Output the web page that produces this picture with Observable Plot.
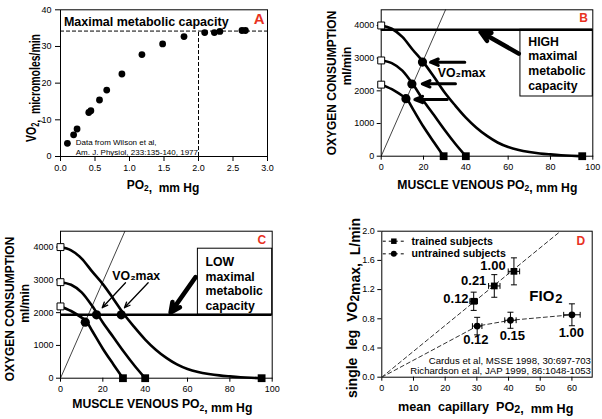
<!DOCTYPE html>
<html><head><meta charset="utf-8">
<script src="https://cdn.jsdelivr.net/npm/d3@7"></script>
<script src="https://cdn.jsdelivr.net/npm/@observablehq/plot@0.6"></script>
<style>
html,body{margin:0;padding:0;background:#fff;}
#wrap{position:relative;width:602px;height:419px;overflow:hidden;background:#fff;}
#wrap svg{position:absolute;overflow:visible;}
</style></head>
<body><div id="wrap"></div>
<script>
const FONT = "'Liberation Sans', Arial, 'DejaVu Sans', sans-serif";
const RED = "#e8321f";

// ---------- Panel A data ----------
const aPO2 = [0.10,0.19,0.24,0.41,0.44,0.565,0.67,0.89,1.18,1.48,1.79,2.09,2.23,2.31,2.63,2.68];
const aVO2 = [3.6,5.9,7.5,12.0,12.5,15.4,18.1,22.5,27.8,30.7,32.7,33.8,33.8,34.1,34.35,34.35];
const aMaxVO2 = 34.2;
const aCritPO2 = 2.0;
const aXTicks = [0,0.5,1,1.5,2,2.5,3];
const aYTicks = [0,10,20,30,40];

// ---------- Panels B & C data ----------
const curveHighPO2 = [0,5,10,15,20,25,30,35,40,45,50,55,60,65,70,75,80,85,90,95];
const curveHighVO2 = [4000,3900,3650,3250,2870,2420,1950,1550,1180,870,620,420,280,190,130,85,55,30,12,0];
const curveMidPO2 = [0,5,10,15,20,25,30,35,40];
const curveMidVO2 = [2930,2850,2620,2200,1700,1250,800,380,0];
const curveLowPO2 = [0,5,10,12,15,20,25,29.5];
const curveLowVO2 = [2190,2050,1850,1760,1440,900,420,0];
const diagPO2 = [0,30.4];
const diagVO2 = [0,4480];
const bMaxVO2 = 3870;   // HIGH maximal metabolic capacity
const cMaxVO2 = 1934;   // LOW maximal metabolic capacity
const bVO2maxPO2 = [19.5,14.5,11.7];
const bVO2maxVO2 = [2880,2210,1760];
const cVO2maxPO2 = [11.7,17.0,28.7];
const cVO2maxVO2 = [1710,1934,1934];
const bcXTicks = [0,20,40,60,80,100];
const bcYTicks = [0,1000,2000,3000,4000];

// ---------- Panel D data ----------
const dTrainedPc = [29.0,35.5,41.7];
const dTrainedVO2 = [1.04,1.25,1.45];
const dTrainedYErr = [0.125,0.155,0.185];
const dTrainedXErr = [1.2,1.8,1.8];
const dTrainedFIO2 = ["0.12","0.21","1.00"];
const dUntrainedPc = [30.1,40.6,60.0];
const dUntrainedVO2 = [0.70,0.78,0.855];
const dUntrainedYErr = [0.12,0.11,0.15];
const dUntrainedXErr = [1.5,1.8,2.6];
const dUntrainedFIO2 = ["0.12","0.15","1.00"];
const dTrainedFitPc = [0,56.4];
const dTrainedFitVO2 = [0,2.0];
const dXTicks = [0,10,20,30,40,50,60];
const dYTicks = [0,0.4,0.8,1.2,1.6,2.0];

const wrap = document.getElementById("wrap");

function place(svg, left, top){ svg.style.left = left+"px"; svg.style.top = top+"px"; wrap.appendChild(svg); return svg; }

function label(svg, x, y, parts, {size=12, rotate=0, sx=1, anchor="middle", weight="bold", subScale=0.7, subShift=0.28}={}){
  const t = d3.select(svg).append("text")
    .attr("transform", `translate(${x},${y}) rotate(${rotate}) scale(${sx},1)`)
    .attr("text-anchor", anchor).attr("dominant-baseline","central")
    .attr("font-family", FONT).attr("font-size", size).attr("font-weight", weight).attr("fill","black");
  parts.forEach(p => {
    if (typeof p === "string") t.append("tspan").text(p);
    else {
      t.append("tspan").attr("font-size", size*subScale).attr("dy", size*subShift).text(p.sub);
      t.append("tspan").attr("dy", -size*subShift).text("");
    }
  });
}

const pts = (xs, ys) => xs.map((x,i)=>({x, y: ys[i]}));
const baseStyle = {fontFamily: FONT, fontSize: "9px", color: "black", background: "transparent", overflow: "visible"};

// ================= Panel A =================
{
  const data = pts(aPO2, aVO2);
  const svg = Plot.plot({
    width: 300, height: 210, marginLeft: 60, marginRight: 33, marginTop: 9.3, marginBottom: 54,
    x: {domain:[0,3], ticks: aXTicks, tickFormat: d3.format(".1f"), tickSize: 5, tickPadding: 3, label: null},
    y: {domain:[0,40], ticks: aYTicks, tickFormat: d3.format("d"), tickSize: 5, tickPadding: 4, label: null},
    style: baseStyle,
    marks: [
      Plot.frame({stroke:"black"}),
      Plot.ruleY([aMaxVO2], {x1: 0, x2: 3, stroke:"black", strokeDasharray:"4,2", strokeWidth:1}),
      Plot.ruleX([aCritPO2], {y1: 0, y2: aMaxVO2, stroke:"black", strokeDasharray:"4,2", strokeWidth:1}),
      Plot.dot(data, {x:"x", y:"y", r:3.4, fill:"black"}),
      Plot.text(["Maximal metabolic capacity"], {x: 0.05, y: 36.6, text: d=>d, textAnchor:"start", fontSize: 12.5, fontWeight:"bold"}),
      Plot.text(["A"], {frameAnchor:"top-right", dx:-3, dy:4, text:d=>d, fontSize: 15, fontWeight:"bold", fill: RED}),
      Plot.text(["Data from Wilson et al,\nAm. J. Physiol, 233:135-140, 1977"], {x: 0.22, y: 2.6, text:d=>d, textAnchor:"start", fontSize: 8, lineHeight: 1.25})
    ]
  });
  place(svg, 0, 0);
  label(svg, 31.7, 88, ["VO", {sub:"2"}, ",  micromoles/min"], {size: 14.5, rotate: -90, sx: 0.72});
  label(svg, 163, 185, ["PO", {sub:"2"}, ",  mm Hg"], {size: 12});
}

// ============ Panels B and C shared builder ============
function buildBC({left, top, width, height, mt, mb, ml, mr, yMax, maxVO2, circPO2, circVO2, box, boxText, textPos, bigArrow, smallArrows, vo2Text, letter, arrowWidth}){
  const curves = [pts(curveHighPO2, curveHighVO2), pts(curveMidPO2, curveMidVO2), pts(curveLowPO2, curveLowVO2)];
  const starts = curves.map(c => c[0]);
  const ends = curves.map(c => c[c.length-1]);
  const svg = Plot.plot({
    width, height, marginLeft: ml, marginRight: mr, marginTop: mt, marginBottom: mb,
    x: {domain:[0,100], ticks: bcXTicks, tickFormat: d3.format("d"), tickSize: 4, tickPadding: 3, label: null},
    y: {domain:[0,yMax], ticks: bcYTicks, tickFormat: d3.format("d"), tickSize: 4, tickPadding: 3, label: null},
    style: baseStyle,
    marks: [
      Plot.line(pts(diagPO2, diagVO2), {x:"x", y:"y", stroke:"#444", strokeWidth:1}),
      ...curves.map(c => Plot.line(c, {x:"x", y:"y", curve:"monotone-x", stroke:"black", strokeWidth:2.6})),
      Plot.rect([box], {x1:"x1", x2:"x2", y1:"y1", y2:"y2", fill:"white", stroke:"black", strokeWidth:1}),
      Plot.ruleY([maxVO2], {x1:0, x2:100, stroke:"black", strokeWidth:2.4}),
      Plot.frame({stroke:"black"}),
      Plot.dot(starts, {x:"x", y:"y", symbol:"square", r:3.9, fill:"white", stroke:"black", strokeWidth:1}),
      Plot.dot(ends, {x:"x", y:"y", symbol:"square", r:4.4, fill:"black"}),
      Plot.dot(pts(circPO2, circVO2), {x:"x", y:"y", r:4.6, fill:"black"}),
      Plot.text([boxText], {x: textPos.x, y: textPos.y, text:d=>d, textAnchor:"start", lineAnchor:"middle", fontSize:12.3, fontWeight:"bold", lineHeight:1.2}),
      Plot.arrow([bigArrow], {x1:"x1", y1:"y1", x2:"x2", y2:"y2", stroke:"black", strokeWidth:4.5, headLength:3.6, headAngle:50}),
      Plot.arrow(smallArrows, {x1:"x1", y1:"y1", x2:"x2", y2:"y2", stroke:"black", strokeWidth:arrowWidth, headLength:arrowWidth>2?4.2:7, headAngle:45}),
      Plot.text([vo2Text.t], {x: vo2Text.x, y: vo2Text.y, text:d=>d, fontSize:12.3, fontWeight:"bold"}),
      Plot.text([letter.t], {frameAnchor:"top-right", dx: letter.dx, dy: letter.dy, text:d=>d, fontSize: letter.size, fontWeight:"bold", fill: RED})
    ]
  });
  return place(svg, left, top);
}

// ================= Panel B =================
{
  const svg = buildBC({
    left: 300, top: 0, width: 302, height: 210, ml: 80.7, mr: 9.7, mt: 9.3, mb: 54.3, yMax: 4480,
    maxVO2: bMaxVO2, circPO2: bVO2maxPO2, circVO2: bVO2maxVO2,
    box: {x1: 65.8, x2: 100, y1: 1827, y2: bMaxVO2},
    boxText: "HIGH\nmaximal\nmetabolic\ncapacity", textPos: {x: 69.5, y: 2850},
    bigArrow: {x1: 65, y1: 3140, x2: 47, y2: 3800},
    smallArrows: [
      {x1: 39.5, y1: 2876, x2: 23.3, y2: 2876},
      {x1: 35.1, y1: 2215, x2: 19.4, y2: 2215},
      {x1: 31.2, y1: 1735, x2: 15.9, y2: 1735}
    ],
    arrowWidth: 3,
    vo2Text: {t: "VO₂max", x: 38.0, y: 2530},
    letter: {t: "B", dx: -5, dy: 4, size: 12}
  });
  label(svg, 31.7, 83, ["OXYGEN CONSUMPTION"], {size: 12, rotate: -90});
  label(svg, 47, 66, ["ml/min"], {size: 12, rotate: -90});
  label(svg, 187.3, 185, ["MUSCLE VENOUS PO", {sub:"2"}, ", mm Hg"], {size: 12.2});
}

// ================= Panel C =================
{
  const svg = buildBC({
    left: 0, top: 210, width: 300, height: 209, ml: 60, mr: 28.3, mt: 20.7, mb: 41.3, yMax: 4485,
    maxVO2: cMaxVO2, circPO2: cVO2maxPO2, circVO2: cVO2maxVO2,
    box: {x1: 64.9, x2: 100, y1: cMaxVO2, y2: 3951},
    boxText: "LOW\nmaximal\nmetabolic\ncapacity", textPos: {x: 68.5, y: 2895},
    bigArrow: {x1: 63.8, y1: 3084, x2: 52.0, y2: 2000},
    smallArrows: [
      {x1: 30.7, y1: 2913, x2: 19.7, y2: 2150},
      {x1: 41.4, y1: 2913, x2: 30.2, y2: 2150}
    ],
    arrowWidth: 1.3,
    vo2Text: {t: "VO₂max", x: 35.8, y: 3105},
    letter: {t: "C", dx: -6, dy: 4, size: 12}
  });
  label(svg, 10, 99, ["OXYGEN CONSUMPTION"], {size: 12, rotate: -90});
  label(svg, 25, 93.3, ["ml/min"], {size: 12, rotate: -90});
  label(svg, 162.3, 194.3, ["MUSCLE VENOUS PO", {sub:"2"}, ", mm Hg"], {size: 12.2});
}

// ================= Panel D =================
{
  const trained = dTrainedPc.map((x,i)=>({x, y:dTrainedVO2[i], ey:dTrainedYErr[i], ex:dTrainedXErr[i], f:dTrainedFIO2[i]}));
  const untrained = dUntrainedPc.map((x,i)=>({x, y:dUntrainedVO2[i], ey:dUntrainedYErr[i], ex:dUntrainedXErr[i], f:dUntrainedFIO2[i]}));
  const all = trained.concat(untrained);
  const capX = 0.95, capY = 0.04;
  const untrainedLine = [{x:0,y:0}, ...untrained];
  const trainedLabelPos = [{x:23.4,y:1.078},{x:29.0,y:1.325},{x:35.1,y:1.525}];
  const untrainedLabelPos = [{x:29.7,y:0.512},{x:41.2,y:0.571},{x:59.8,y:0.612}];
  const legend = [
    {label:"trained subjects", y:1.863, symbol:"square", r:3.6},
    {label:"untrained subjects", y:1.69, symbol:"circle", r:3.3}
  ];
  const refs = ["Cardus et al, MSSE 1998, 30:697-703", "Richardson et al, JAP 1999, 86:1048-1053"];
  const svg = Plot.plot({
    width: 302, height: 209, marginLeft: 81.3, marginRight: 10.3, marginTop: 20.7, marginBottom: 42.3,
    x: {domain:[0,66.4], ticks: dXTicks, tickFormat: d3.format("d"), tickSize: 4, tickPadding: 3, label: null},
    y: {domain:[0,2.0], ticks: dYTicks, tickFormat: d3.format(".1f"), tickSize: 4, tickPadding: 3, label: null},
    style: baseStyle,
    marks: [
      Plot.frame({stroke:"black"}),
      Plot.line(pts(dTrainedFitPc, dTrainedFitVO2), {x:"x", y:"y", stroke:"#333", strokeWidth:1, strokeDasharray:"4,3"}),
      Plot.line(untrainedLine, {x:"x", y:"y", stroke:"#333", strokeWidth:1, strokeDasharray:"4,3"}),
      // vertical error bars + caps
      Plot.link(all, {x1:"x", x2:"x", y1:d=>d.y-d.ey, y2:d=>d.y+d.ey, stroke:"black", strokeWidth:1}),
      Plot.link(all, {x1:d=>d.x-capX, x2:d=>d.x+capX, y1:d=>d.y-d.ey, y2:d=>d.y-d.ey, stroke:"black", strokeWidth:1}),
      Plot.link(all, {x1:d=>d.x-capX, x2:d=>d.x+capX, y1:d=>d.y+d.ey, y2:d=>d.y+d.ey, stroke:"black", strokeWidth:1}),
      // horizontal error bars + caps
      Plot.link(all, {x1:d=>d.x-d.ex, x2:d=>d.x+d.ex, y1:"y", y2:"y", stroke:"black", strokeWidth:1}),
      Plot.link(all, {x1:d=>d.x-d.ex, x2:d=>d.x-d.ex, y1:d=>d.y-capY, y2:d=>d.y+capY, stroke:"black", strokeWidth:1}),
      Plot.link(all, {x1:d=>d.x+d.ex, x2:d=>d.x+d.ex, y1:d=>d.y-capY, y2:d=>d.y+capY, stroke:"black", strokeWidth:1}),
      Plot.dot(trained, {x:"x", y:"y", symbol:"square", r:3.8, fill:"black"}),
      Plot.dot(untrained, {x:"x", y:"y", r:3.4, fill:"black"}),
      Plot.text(trained, {x:(d,i)=>trainedLabelPos[i].x, y:(d,i)=>trainedLabelPos[i].y, text:"f", fontSize:13, fontWeight:"bold"}),
      Plot.text(untrained, {x:(d,i)=>untrainedLabelPos[i].x, y:(d,i)=>untrainedLabelPos[i].y, text:"f", fontSize:13, fontWeight:"bold"}),
      Plot.text(["FIO"], {x: 50.5, y: 1.105, text:d=>d, fontSize:15, fontWeight:"bold"}),
      Plot.text(["2"], {x: 55.9, y: 1.08, text:d=>d, fontSize:13, fontWeight:"bold"}),
      // legend
      Plot.link(legend, {x1:0.3, x2:7.0, y1:"y", y2:"y", stroke:"black", strokeWidth:1, strokeDasharray:"3,3"}),
      Plot.dot(legend, {x:3.8, y:"y", symbol:"symbol", r:"r", fill:"black"}),
      Plot.text(legend, {x:9.4, y:"y", text:"label", textAnchor:"start", fontSize:10.6, fontWeight:"bold"}),
      Plot.text(refs, {x:66.0, y:(d,i)=>[0.229,0.092][i], text:d=>d, textAnchor:"end", fontSize:9.6}),
      Plot.text(["D"], {frameAnchor:"top-right", dx:-7, dy:5, text:d=>d, fontSize:12, fontWeight:"bold", fill: RED})
    ]
  });
  place(svg, 300, 210);
  label(svg, 51.7, 98, ["single  leg  VO", {sub:"2"}, "max,  L/min"], {size: 14, rotate: -90, subScale: 0.85, subShift: 0.2});
  label(svg, 185.7, 196.7, ["mean  capillary  PO", {sub:"2"}, ",  mm Hg"], {size: 12.6, subScale: 0.85, subShift: 0.2});
}
</script>
</body></html>
